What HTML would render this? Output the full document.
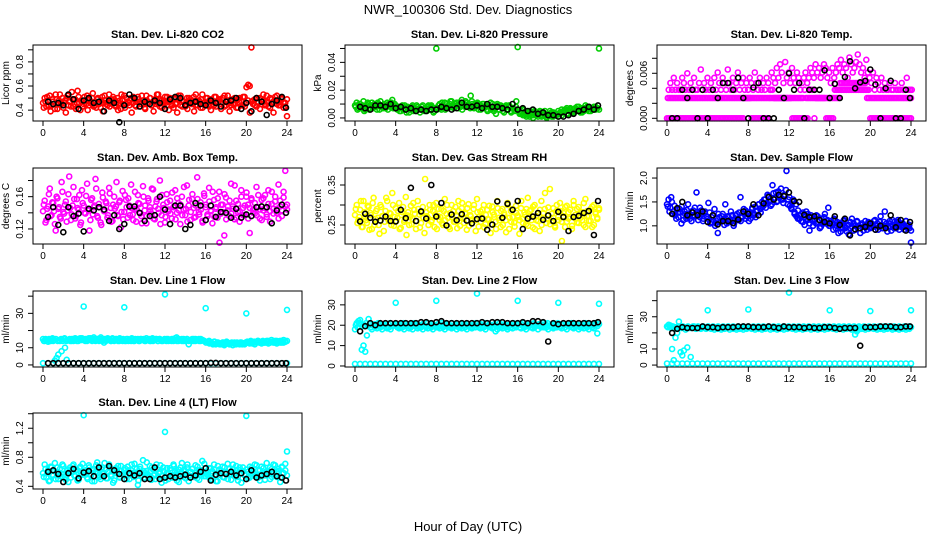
<!DOCTYPE html>
<html><head><meta charset="utf-8">
<style>
html,body{margin:0;padding:0;background:#fff;}
svg{display:block;font-family:"Liberation Sans",Arial,sans-serif;}
</style></head>
<body>
<svg id="chart" width="936" height="540" viewBox="0 0 936 540" xmlns="http://www.w3.org/2000/svg">
<text x="468" y="14" text-anchor="middle" font-size="13">NWR_100306 Std. Dev. Diagnostics</text>
<text x="468" y="531" text-anchor="middle" font-size="13">Hour of Day (UTC)</text>
</svg>
<script>
// ---- data (hours for black points) ----
const blackHours=[0.5,1,1.5,2,2.5,3,3.5,4,4.5,5,5.5,6,6.5,7,7.5,8,8.5,9,9.5,10,10.5,11,11.5,12,12.5,13,13.5,14,14.5,15,15.5,16,16.5,17,17.5,18,18.5,19,19.5,20,20.5,21,21.5,22,22.5,23,23.5,23.9];
const xTicks=[0,4,8,12,16,20,24];
// CO2
const co2A=[.46,.50,.43,.48,.52,.44,.47,.41,.49,.45,.53,.46,.42,.48,.50,.44,.47,.55,.43,.49,.46,.51,.40,.47,.45,.48,.52,.44,.46,.50,.43,.47,.49,.45,.42,.51,.46,.48,.44,.53,.47,.45,.49,.43,.50,.46,.41,.48,.52,.45,.47,.44,.50,.46,.49,.43,.51,.47,.45,.48,.42,.52,.46,.50,.44,.47,.49,.45,.53,.43,.48,.46,.51,.44,.47,.50,.45,.42,.49,.46,.52,.44,.48,.47,.43,.50,.46,.49,.45,.51,.44,.47,.48,.42,.53,.46,.45,.50,.43,.49,.47,.44,.51,.46,.48,.45,.50,.43,.47,.52,.46,.44,.49,.45,.48,.42,.50,.47,.44,.51,.46,.48,.60,.92,.45,.49,.43,.47,.50,.45,.48,.44,.52,.46,.42,.49,.47,.51,.45,.48,.44,.50,.46,.43,.49];
const co2B=[.42,.47,.51,.44,.39,.49,.45,.53,.41,.48,.44,.50,.46,.38,.52,.47,.43,.49,.45,.41,.56,.46,.48,.43,.51,.45,.40,.49,.47,.54,.44,.42,.50,.46,.48,.39,.52,.45,.47,.43,.49,.51,.44,.46,.40,.48,.53,.45,.42,.50,.46,.48,.38,.51,.44,.47,.49,.43,.52,.45,.41,.48,.46,.50,.44,.39,.47,.53,.45,.49,.42,.48,.46,.51,.40,.47,.44,.50,.45,.38,.49,.52,.43,.47,.45,.41,.50,.46,.48,.39,.53,.44,.47,.49,.42,.46,.50,.44,.48,.40,.45,.51,.43,.47,.49,.41,.46,.52,.44,.48,.39,.47,.45,.50,.42,.49,.46,.44,.51,.43,.59,.61,.38,.47,.48,.44,.50,.46,.41,.49,.53,.45,.47,.43,.50,.46,.38,.48,.52,.44,.47,.49,.42,.46,.35];
const co2K=[.47,.45,.46,.44,.53,.49,.41,.48,.50,.46,.47,.39,.48,.46,.30,.44,.53,.50,.43,.47,.45,.48,.46,.41,.49,.51,.50,.44,.46,.47,.45,.44,.48,.46,.43,.47,.48,.50,.41,.46,.39,.50,.47,.36,.45,.48,.51,.42];
// Pressure
const prA=[.009,.011,.007,.010,.008,.012,.006,.009,.010,.007,.011,.008,.009,.006,.010,.012,.008,.009,.007,.011,.010,.008,.013,.007,.009,.006,.008,.005,.009,.007,.006,.008,.004,.007,.009,.006,.005,.008,.007,.006,.009,.005,.007,.008,.006,.009,.007,.005,.050,.007,.010,.006,.009,.011,.008,.007,.010,.012,.009,.008,.011,.007,.010,.013,.009,.008,.011,.010,.007,.012,.009,.008,.010,.006,.009,.007,.010,.008,.006,.009,.011,.007,.005,.008,.010,.006,.009,.007,.004,.008,.006,.009,.005,.007,.006,.008,.051,.004,.003,.006,.002,.005,.003,.001,.004,.002,.005,.003,.001,.004,.002,.003,.005,.001,.003,.002,.004,.001,.003,.002,.005,.003,.006,.004,.005,.007,.003,.006,.005,.004,.007,.006,.008,.005,.004,.007,.006,.008,.005,.007,.006,.008,.006,.007,.050];
const prB=[.008,.006,.010,.007,.009,.005,.008,.011,.006,.009,.007,.010,.008,.011,.006,.009,.007,.010,.008,.006,.009,.011,.007,.010,.008,.007,.005,.008,.006,.009,.004,.007,.006,.008,.005,.007,.009,.006,.004,.008,.006,.007,.005,.009,.006,.008,.004,.007,.006,.009,.007,.011,.008,.006,.010,.009,.012,.008,.007,.010,.009,.011,.008,.006,.010,.012,.009,.008,.016,.010,.007,.009,.011,.008,.006,.010,.007,.009,.005,.008,.006,.010,.007,.003,.009,.006,.008,.005,.007,.009,.006,.008,.004,.007,.005,.012,.006,.003,.005,.002,.004,.001,.003,.005,.002,.000,.004,.002,.003,.005,.001,.004,.002,.000,.003,.005,.001,.004,.002,.003,.001,.004,.002,.005,.006,.003,.005,.007,.004,.006,.005,.008,.006,.004,.007,.005,.009,.006,.008,.005,.007,.006,.008,.007,.006];
const prK=[.008,.007,.006,.009,.009,.008,.010,.007,.008,.006,.007,.005,.006,.005,.006,.006,.008,.007,.006,.007,.011,.008,.008,.009,.007,.010,.008,.008,.007,.006,.010,.006,.007,.005,.006,.003,.004,.002,.002,.001,.001,.002,.003,.005,.006,.008,.006,.009];
// Li-820 temp
const tA=[0,0,0,0,0,0,0,0,0,0,0,0,0,0,0,0,0,0,0,0,0,0,0,0,0,0,0,0,0,0,0,0,0,0,0,0,0,0,0,0,0,0,0,0,0,0,.0027,.0027,.0027,.0027,0,0,0,0,0,0,0,0,0,0,0,.0027,.0027,.0027,.0027,.0027,.0027,.0027,.0027,.0027,.0027,.0027,.0027,.0027,0,0,0,0,0,0,0,0,0,0,.0038,.0038,.0038,0,.0027,.0027,.0027,.0027,.0027,.0027,0,0,0,0,0,.0038,.0038,.0038,.0038,.0038,.0038,.0038,.0038,.0038,.0038,.0038,.0038,.0038,.0038,.0038,.0038,.0038,.0038,.0038,.0038,.0038,0,0,0,0,0,0,0,0,0,0,0,0,0,0,0,0,0,0,0,0,0,0,0,0,0];
const tB=[.0027,.0027,.0027,.0027,.0027,.0027,.0027,.0027,.0027,.0027,.0027,.0027,.0027,.0027,.0027,.0027,.0027,.0027,.0027,.0027,.0027,.0027,.0027,.0027,.0027,.0027,.0027,.0027,.0027,.0027,.0027,.0027,.0027,.0027,.0027,.0027,.0027,.0027,.0027,.0027,.0027,.0027,.0027,.0027,.0027,.0027,.0027,.0027,.0027,.0027,.0027,.0027,.0027,.0027,.0027,.0027,.0027,.0027,.0027,.0027,.0027,.0038,.0038,.0027,.0027,.0027,.0027,.0027,.0027,.0027,.0027,.0027,.0027,.0027,.0027,.0027,.0027,.0027,.0027,.0027,.0027,.0038,.0027,.0027,.0027,.0027,.0027,.0027,.0027,.0027,.0027,.0027,.0027,.0027,.0027,.0027,.0027,.0027,.0027,.0027,.0027,.0027,.0047,.0047,.0047,.0047,.0047,.0047,.0047,.0047,.0047,.0047,.0047,.0047,.0047,.0047,.0047,.0047,.0027,.0027,.0027,.0027,.0027,.0027,.0027,.0027,.0027,.0027,.0027,.0027,.0027,.0027,.0027,.0027,.0027,.0027,.0027,.0027,.0027,.0027,.0027,.0027,.0027,.0027,.0027];
const tC=[.0038,.0047,.0038,.0054,.0038,.0047,.0038,.0038,.0054,.0047,.0038,.006,.0038,.0047,.0038,.0054,.0038,.0038,.0047,.0065,.0038,.0047,.0038,.0054,.0038,.0047,.0038,.0054,.0038,.0061,.0047,.0038,.0054,.0047,.0038,.0065,.0047,.0038,.0054,.0038,.0047,.0061,.0038,.0047,.0054,.0038,.0047,.0038,.0054,.0047,.0038,.0061,.0047,.0038,.0054,.0038,.0047,.0038,.0054,.0047,.0038,.0061,.0054,.0047,.0067,.0054,.0072,.0061,.0047,.0075,.0054,.0061,.0047,.0067,.0054,.0047,.0061,.0054,.0038,.0047,.0054,.0061,.0047,.0054,.0067,.0061,.0054,.0072,.0061,.0067,.0054,.0061,.0072,.0067,.0054,.0061,.0047,.0067,.0054,.0061,.0072,.0067,.0078,.0061,.0072,.0067,.0054,.0081,.0072,.0061,.0067,.0075,.0085,.0072,.0061,.0067,.0054,.0078,.0061,.0054,.0047,.0061,.0038,.0054,.0047,.0038,.0054,.0038,.0047,.0038,.0038,.0047,.0038,.0038,.0047,.0038,.0038,.0038,.0047,.0038,.0038,.0054,.0038,.0038,.0038];
const tK=[0,0,.0038,.0027,.0038,0,.0038,0,.0038,.0027,.0047,.0047,.0038,.0054,.0027,0,.0041,.0047,0,0,0,.0038,.0027,.0060,.0038,.0047,0,.0038,.0038,.0038,.0064,.0027,.0046,.0027,.0055,.0076,.0040,.0048,.0050,.0065,.0045,0,.0040,.0050,0,0,.0038,.0027];
// Amb box temp
const abA=[.142,.155,.131,.148,.170,.137,.152,.126,.160,.145,.135,.178,.141,.150,.129,.163,.146,.138,.172,.133,.157,.144,.125,.168,.149,.139,.176,.143,.131,.158,.147,.182,.136,.151,.128,.165,.142,.154,.134,.171,.146,.130,.160,.148,.137,.153,.122,.167,.141,.156,.134,.149,.175,.138,.145,.129,.162,.151,.136,.173,.143,.127,.158,.147,.139,.169,.132,.154,.145,.180,.137,.150,.128,.163,.142,.155,.133,.147,.168,.140,.152,.126,.160,.144,.137,.174,.149,.131,.157,.146,.135,.184,.141,.153,.130,.164,.147,.138,.171,.143,.127,.156,.145,.134,.166,.139,.150,.112,.159,.143,.136,.176,.148,.132,.155,.141,.129,.168,.146,.137,.160,.150,.115,.158,.144,.139,.172,.147,.133,.156,.143,.162,.138,.151,.129,.166,.145,.154,.140,.175,.148,.136,.159,.192,.144];
const abB=[.150,.128,.145,.163,.136,.153,.142,.118,.158,.147,.133,.166,.139,.154,.143,.185,.131,.149,.157,.136,.146,.162,.128,.152,.140,.161,.145,.118,.156,.138,.149,.170,.134,.147,.125,.159,.143,.152,.137,.164,.129,.150,.145,.178,.136,.155,.141,.132,.162,.147,.158,.137,.146,.131,.166,.144,.152,.139,.127,.160,.149,.136,.155,.143,.170,.133,.148,.157,.140,.126,.162,.146,.135,.153,.144,.139,.165,.148,.132,.158,.143,.150,.137,.172,.145,.129,.156,.141,.163,.134,.149,.157,.138,.144,.128,.161,.150,.136,.154,.142,.166,.135,.147,.158,.103,.150,.141,.163,.132,.148,.155,.139,.145,.174,.134,.151,.142,.160,.137,.149,.165,.133,.146,.156,.140,.152,.137,.162,.144,.131,.158,.146,.135,.168,.142,.151,.139,.160,.145,.133,.155,.143,.166,.148,.150];
const abK=[.135,.147,.125,.116,.147,.136,.139,.117,.145,.143,.147,.144,.130,.137,.120,.126,.148,.148,.140,.130,.136,.137,.160,.144,.126,.149,.149,.120,.125,.152,.149,.131,.149,.135,.141,.140,.134,.145,.134,.138,.136,.147,.148,.147,.127,.143,.150,.140];
// Gas stream RH
const rhA=[.275,.300,.262,.288,.245,.310,.270,.255,.295,.280,.240,.318,.265,.290,.250,.300,.272,.235,.285,.310,.260,.278,.330,.248,.292,.268,.305,.243,.282,.258,.320,.274,.250,.298,.265,.288,.240,.310,.276,.255,.295,.230,.282,.268,.300,.258,.285,.245,.305,.272,.262,.290,.250,.315,.278,.268,.240,.300,.285,.258,.272,.310,.248,.292,.266,.280,.238,.302,.275,.255,.290,.262,.315,.246,.284,.270,.300,.252,.288,.264,.230,.296,.276,.258,.310,.268,.245,.290,.280,.262,.305,.240,.285,.270,.256,.298,.274,.228,.292,.266,.282,.252,.318,.270,.288,.244,.300,.262,.280,.235,.310,.268,.290,.255,.275,.340,.260,.292,.248,.285,.270,.305,.258,.280,.245,.298,.266,.288,.240,.310,.275,.256,.295,.268,.282,.250,.315,.272,.260,.290,.245,.300,.278,.265,.288];
const rhB=[.290,.255,.270,.310,.245,.282,.262,.298,.238,.275,.305,.250,.285,.268,.228,.295,.272,.258,.318,.265,.280,.250,.300,.270,.260,.285,.240,.275,.295,.262,.225,.282,.270,.252,.305,.278,.260,.290,.244,.280,.268,.365,.272,.250,.288,.262,.300,.276,.240,.290,.270,.255,.285,.262,.300,.245,.280,.270,.258,.295,.242,.285,.268,.305,.255,.278,.292,.248,.272,.262,.300,.235,.282,.270,.258,.288,.244,.275,.265,.298,.252,.282,.270,.240,.292,.262,.285,.250,.275,.232,.300,.268,.258,.290,.246,.280,.270,.262,.310,.255,.275,.290,.248,.285,.262,.296,.240,.272,.260,.288,.250,.280,.330,.265,.294,.252,.278,.268,.244,.300,.262,.285,.210,.272,.295,.258,.282,.270,.248,.300,.266,.290,.255,.280,.262,.305,.245,.285,.272,.260,.296,.250,.282,.268,.292];
const rhK=[.259,.278,.268,.258,.261,.271,.260,.259,.288,.267,.343,.260,.284,.266,.350,.271,.305,.249,.276,.262,.277,.261,.254,.265,.266,.238,.251,.309,.268,.303,.288,.310,.240,.266,.271,.280,.263,.274,.260,.283,.270,.235,.270,.273,.280,.285,.225,.310];
// Sample flow
const sfA=[1.45,1.55,1.38,1.50,1.30,1.22,1.35,1.18,1.28,1.40,1.12,1.25,1.33,1.20,1.15,1.30,1.22,1.38,1.70,1.25,1.18,1.32,1.10,1.27,1.20,1.15,1.28,1.08,1.22,1.35,1.05,0.85,1.18,1.10,1.25,1.02,1.15,1.20,1.08,1.30,1.12,1.05,1.22,1.15,1.28,1.10,1.18,1.25,1.32,1.20,1.28,1.15,1.35,1.22,1.40,1.30,1.45,1.35,1.50,1.42,1.55,1.48,1.62,1.52,1.45,1.68,1.58,1.50,1.72,1.60,1.55,1.48,1.65,2.15,1.55,1.42,1.35,1.55,1.28,1.20,1.32,1.15,1.25,1.08,1.18,1.30,1.12,0.90,1.22,1.10,1.15,1.05,1.20,1.12,0.98,1.08,1.18,1.05,1.12,1.00,1.10,1.02,1.15,0.95,1.08,1.00,0.88,1.05,1.12,0.95,1.00,0.82,1.08,0.98,1.05,0.92,1.10,1.00,0.95,1.05,0.90,1.02,0.98,1.08,0.95,1.05,0.98,1.12,1.00,0.92,1.08,1.02,0.95,1.30,1.05,0.98,1.10,0.90,1.02,1.08,0.95,1.12,1.00,0.98,1.05,0.92,1.10,1.00,0.95,0.65];
const sfB=[1.40,1.30,1.60,1.25,1.42,1.15,1.28,1.35,1.05,1.22,1.30,1.15,1.45,1.25,1.10,1.32,1.20,1.28,1.12,1.38,1.25,1.15,1.30,1.20,1.48,1.05,1.18,1.12,1.00,1.15,1.25,1.08,1.20,1.12,1.45,1.05,1.18,1.10,1.22,1.00,1.15,1.25,1.12,1.60,1.20,1.35,1.15,1.28,1.10,1.22,1.38,1.25,1.18,1.32,1.45,1.28,1.40,1.55,1.38,1.65,1.50,1.42,1.85,1.58,1.70,1.52,1.62,1.78,1.55,1.65,1.75,1.45,1.60,1.38,1.50,1.25,1.45,1.15,1.22,1.10,1.28,1.02,1.15,1.25,1.05,1.18,1.00,1.12,1.22,1.08,0.95,1.15,1.05,1.25,1.10,1.38,1.00,1.05,0.92,1.12,1.00,0.85,1.05,0.95,1.10,0.98,0.88,1.02,0.95,1.15,0.90,1.00,1.08,0.95,0.85,1.02,0.98,1.10,0.92,1.05,0.98,1.02,1.10,0.92,1.05,0.98,1.20,0.95,1.08,1.00,0.88,1.05,0.98,1.12,0.95,1.00,1.08,0.92,1.05,1.00,0.98,1.10,0.95,1.02,0.90];
const sfK=[1.25,1.37,1.50,1.22,1.28,1.22,1.30,1.08,1.22,1.03,1.10,1.10,1.06,1.13,1.30,1.25,1.45,1.22,1.47,1.60,1.55,1.65,1.62,1.70,1.52,1.50,1.23,1.18,1.20,1.12,1.08,1.05,1.20,1.02,1.15,0.80,0.93,0.95,0.98,1.05,0.92,1.00,0.95,1.22,0.97,1.12,0.90,1.08];
// Line 1
const l1A=[15,14,14.5,13.5,14,15,14,2.5,4,6,14,8,15,10,3,14.5,14,15,14,15.5,14,15,14.5,15.5,34,15,14,15.5,14.5,15,16,14,15,14.5,15,14,13,15,14.5,15,14,15.5,14,15,14.5,14,15,14,33.5,14,15,14.5,14,15,14,14.5,15,14,15,14.5,14,15.5,14.5,14,15,14,14.5,15,14,15,14,14.5,41,15,14,14.5,15,14,15.5,14,15,14.5,14,15,14,15,12,14.5,14,15,14,14.5,15,14,14.5,14,33,13.5,14,13,12.5,13.5,12,13,12.5,12,13,11.5,12.5,13,12,12.5,11.5,13,12,12.5,12,13,12.5,12,30,13,12.5,13.5,13,12,13.5,14,13,12.5,13.5,13,14,12.5,13,13.5,13,14,12.5,13.5,13,14,13,13.5,32];
const l1B=[14,15,14.5,15,14,15.5,14.5,15,14,14.5,15,14,15.5,14,14.5,15,14,15,14.5,15,14,15.5,14.5,15,14,15,14.5,15.5,14,15,14.5,15,14,16,14.5,15,14,15.5,14.5,14,15,14.5,15,14,15.5,14.5,15,14,15,14,14.5,15.5,14,15,14.5,14,15,14.5,15,14,14.5,15,14,15.5,14.5,15,14,15,14.5,14,15,14,15,14.5,14,15,14.5,16,14,14.5,15,14,14.5,15,14,14.5,15,14,15,14.5,14,15,14.5,14,13,13.5,12.5,13,12,13.5,12.5,13,12,12.5,13,12,13.5,12.5,12,13,12.5,12,13,12.5,13,12,12.5,13,13.5,13,14,12.5,13.5,13,14,13,13.5,14,13,13.5,14,13,14.5,13.5,13,14,13.5,14,13,14.5,13.5,14];
const l1Z=[1,1,1,1,1,1,1,1,1,1,1,1,1,1,1,1,1,1,1,1,1,1,1,1,1,1,1,1,1,1,1,1,1,1,1,1,1,1,1,1,1,1,1,1,1,1,1,1,1];
const l1K=[1,1,1,1,1,1,1,1,1,1,1,1,1,1,1,1,1,1,1,1,1,1,1,1,1,1,1,1,1,1,1,1,1.2,1.2,1,1,1,1,1,1,1,1,1,1,1,1,1,1];
// Line 2
const l2A=[18,21,22,22.5,8,10,7,15,23,19,18,20,19,18.5,20,19,18,19.5,20,18.5,19,18,19.5,20,31,19,18.5,20,19,18,19.5,20,18.5,19,18,20,19.5,18.5,19,20,18,19.5,19,18.5,20,19,18,19.5,32,19,18.5,20,19,18,19.5,20,19,18.5,19,20,18,19.5,19,18.5,20,19,18,19.5,19,18.5,20,19,35.5,19,18.5,20,19,18,19.5,20,19,18.5,19,17,18,19.5,19,18.5,20,19,18,19.5,19,18.5,20,19,32,19,18.5,20,19,18,19.5,20,19,18.5,19,20,18,19.5,19,21,20,19,18,19.5,19,18.5,20,19,31,19,18.5,20,19,18,19.5,20,19,18.5,19,20,18,19.5,19,18.5,20,19,18,19.5,19,18.5,20,16,30.5];
const l2B=[20,19,21,20.5,19.5,20,21,19.5,20.5,19,20,20.5,19.5,21,20,19.5,20.5,20,19,20.5,21,19.5,20,20.5,19.5,20,19,20.5,21,19.5,20,20.5,19,20,21,19.5,20.5,20,19,20.5,20,19.5,21,20,19.5,20.5,20,19,20.5,20,21,19.5,20,20.5,19,20,21,19.5,20.5,20,19,20.5,21,19.5,20,20.5,19.5,20,19,20.5,21,19.5,20,20.5,19,20,21,19.5,20.5,20,19,20.5,20,19.5,21,20,19.5,20.5,20,19,20.5,20,21,19.5,20,20.5,19,20,21,19.5,20.5,20,19,20.5,21,19.5,20,20.5,19.5,20,19,20.5,21,19.5,20,20.5,19,20,21,19.5,20.5,20,19,20.5,20,19.5,21,20,19.5,20.5,20,19,20.5,20,21,19.5,20,20.5,19,20,21,19.5,20.5];
const l2Z=[1,1,1,1,1,1,1,1,1,1,1,1,1,1,1,1,1,1,1,1,1,1,1,1,1,1,1,1,1,1,1,1,1,1,1,1,1,1,1,1,1,1,1,1,1,1,1,1,1];
const l2K=[17,19.5,21,20,21,21,21,21,21,21,21,21,21.5,21.5,21,21.5,22,21,21,21,21,21,21,21,21.5,21,21.5,21.5,21.5,21,21,21,21.5,21,22,22,21.5,12,21,20.5,21,21,21,21,21,21,21,21.5];
// Line 3
const l3A=[24,25,24.5,10,3,17,20,27,8,6,9,22,11,23,5,23.5,24,22.5,23,23.5,22.5,23,23.5,22.5,34,23,22.5,23.5,22,23,22.5,23.5,22,23,22.5,23,23.5,22,23,22.5,23.5,22,23,22.5,23,22,23.5,22.5,34.5,23,22.5,23.5,22,23,22.5,23.5,22,23,22.5,23,23.5,22,23,22.5,23.5,22,23,22.5,23,22,23.5,22.5,45,23,22.5,23.5,22,23,22.5,23.5,22,23,22.5,23,23.5,22,23,22.5,23.5,22,23,22.5,23,22,23.5,22.5,34,23,22.5,23.5,22,23,22.5,23.5,22,23,22.5,23,23.5,22,23,19,21,22,23,22.5,23,22,23.5,22.5,33.5,23,22.5,23.5,22,23,22.5,23.5,22,23,22.5,23,23.5,22,23,22.5,23.5,22,23,22.5,23,22,23.5,22.5,34];
const l3B=[23.5,24,23,24,23.5,23,24,23.5,23,24,23.5,23,24,23.5,23,24,23.5,23,24,23.5,23,24,23.5,23,24,23.5,23,24,23.5,23,24,23.5,23,24,23.5,23,24,23.5,23,24,23.5,23,24,23.5,23,24,23.5,23,24,23.5,23,24,23.5,23,24,23.5,23,24,23.5,23,24,23.5,23,24,23.5,23,24,23.5,23,24,23.5,23,24,23.5,23,24,23.5,23,24,23.5,23,24,23.5,23,24,23.5,23,24,23.5,23,24,23.5,23,24,23.5,23,24,23.5,23,24,23.5,23,24,23.5,23,24,23.5,23,24,23.5,23,24,23.5,23,24,23.5,23,24,23.5,23,24,23.5,23,24,23.5,23,24,23.5,23,24,23.5,23,24,23.5,23,24,23.5,23,24,23.5,23,24,23.5,23,24,23.5];
const l3Z=[1,1,1,1,1,1,1,1,1,1,1,1,1,1,1,1,1,1,1,1,1,1,1,1,1,1,1,1,1,1,1,1,1,1,1,1,1,1,1,1,1,1,1,1,1,1,1,1,1];
const l3K=[20,22.5,23.5,23,23,23,24,23.5,23.5,23,23.5,23.5,23.5,24,24,24,23.5,23.5,23.5,24,23.5,23,24,23.5,23.5,23.5,23,23.5,23,23,23.5,23.5,23,22.5,23,23,23,12,23.5,23.5,23.5,24,24,24,23.5,23.5,24,24];
// Line 4
const l4A=[.58,.70,.52,.62,.48,.66,.55,.72,.60,.50,.64,.57,.68,.53,.61,.46,.66,.59,.70,.54,.63,.49,.67,.56,1.38,.62,.52,.69,.57,.47,.64,.60,.73,.55,.50,.66,.58,.63,.51,.70,.56,.61,.48,.65,.59,.53,.68,.57,.62,.55,.67,.50,.62,.58,.71,.54,.42,.64,.59,.76,.52,.61,.56,.68,.49,.63,.57,.70,.53,.60,.45,.66,1.15,.58,.50,.65,.55,.70,.60,.48,.63,.57,.72,.53,.61,.66,.47,.59,.64,.55,.69,.51,.62,.58,.75,.54,.60,.56,.65,.50,.61,.70,.55,.47,.63,.58,.67,.52,.60,.71,.56,.49,.64,.58,.68,.53,.62,.45,.66,.57,1.37,.60,.52,.65,.57,.70,.54,.62,.48,.67,.59,.55,.72,.60,.50,.64,.57,.69,.53,.61,.46,.66,.58,.71,.88];
const l4B=[.53,.64,.58,.47,.67,.56,.61,.50,.66,.59,.54,.70,.57,.49,.63,.60,.52,.68,.55,.62,.48,.65,.58,.71,.56,.60,.50,.66,.55,.62,.47,.69,.58,.53,.64,.57,.72,.51,.60,.66,.54,.45,.63,.58,.68,.52,.61,.56,.65,.50,.62,.57,.70,.53,.59,.64,.48,.67,.55,.61,.58,.73,.52,.60,.66,.55,.50,.63,.58,.69,.54,.61,.48,.65,.57,.62,.52,.68,.56,.60,.46,.66,.58,.63,.51,.70,.55,.60,.64,.53,.58,.67,.49,.62,.57,.71,.54,.60,.52,.65,.58,.63,.47,.68,.56,.61,.53,.66,.59,.50,.64,.57,.70,.54,.62,.48,.66,.58,.61,.55,.63,.51,.67,.58,.60,.54,.69,.52,.62,.57,.65,.49,.61,.58,.66,.53,.70,.56,.60,.64,.52,.67,.58,.62,.55];
const l4K=[.60,.62,.57,.46,.58,.64,.51,.59,.61,.54,.66,.54,.68,.62,.57,.50,.58,.55,.58,.50,.50,.66,.50,.52,.54,.52,.54,.56,.52,.55,.60,.65,.48,.56,.58,.57,.60,.55,.58,.50,.62,.52,.55,.57,.60,.54,.52,.48];

const NS="http://www.w3.org/2000/svg";
const svg=document.getElementById('chart');
const COLS=[33,345,657], ROWS=[45,168,291,413], W=269, H=76;
function mk(tag,attrs,parent){const e=document.createElementNS(NS,tag);for(const k in attrs)e.setAttribute(k,attrs[k]);(parent||svg).appendChild(e);return e;}

const panels=[
 {c:0,r:0,title:"Stan. Dev. Li-820 CO2",yl:"Licor ppm",ymin:.31,ymax:.94,ticks:[.4,.5,.6,.7,.8,.9],labels:[.4,.6,.8],fmt:1,color:"#ff0000",series:[co2A,co2B],zero:null,black:co2K},
 {c:1,r:0,title:"Stan. Dev. Li-820 Pressure",yl:"kPa",ymin:-.0022,ymax:.0525,ticks:[0,.01,.02,.03,.04,.05],labels:[0,.02,.04],fmt:2,color:"#00cd00",series:[prA,prB],zero:null,black:prK},
 {c:2,r:0,title:"Stan. Dev. Li-820 Temp.",yl:"degrees C",ymin:-.00036,ymax:.00977,ticks:[0,.002,.004,.006,.008],labels:[0,.006],fmt:3,color:"#ff00ff",series:[tA,tB,tC],zero:null,black:tK},
 {c:0,r:1,title:"Stan. Dev. Amb. Box Temp.",yl:"degrees C",ymin:.1014,ymax:.1955,ticks:[.12,.14,.16,.18],labels:[.12,.16],fmt:2,color:"#ff00ff",series:[abA,abB],zero:null,black:abK},
 {c:1,r:1,title:"Stan. Dev. Gas Stream RH",yl:"percent",ymin:.2025,ymax:.3925,ticks:[.25,.30,.35],labels:[.25,.35],fmt:2,color:"#ffff00",series:[rhA,rhB],zero:null,black:rhK},
 {c:2,r:1,title:"Stan. Dev. Sample Flow",yl:"ml/min",ymin:.62,ymax:2.21,ticks:[1,1.5,2],labels:[1,1.5,2],fmt:1,color:"#0000ff",series:[sfA,sfB],zero:null,black:sfK},
 {c:0,r:2,title:"Stan. Dev. Line 1 Flow",yl:"ml/min",ymin:-1.2,ymax:43,ticks:[0,10,20,30,40],labels:[0,10,30],fmt:0,color:"#00ffff",series:[l1A,l1B],zero:l1Z,black:l1K},
 {c:1,r:2,title:"Stan. Dev. Line 2 Flow",yl:"ml/min",ymin:-.5,ymax:36.8,ticks:[0,10,20,30],labels:[0,10,20,30],fmt:0,color:"#00ffff",series:[l2A,l2B],zero:l2Z,black:l2K},
 {c:2,r:2,title:"Stan. Dev. Line 3 Flow",yl:"ml/min",ymin:-1.2,ymax:46,ticks:[0,10,20,30,40],labels:[0,10,30],fmt:0,color:"#00ffff",series:[l3A,l3B],zero:l3Z,black:l3K},
 {c:0,r:3,title:"Stan. Dev. Line 4 (LT) Flow",yl:"ml/min",ymin:.363,ymax:1.41,ticks:[.4,.6,.8,1,1.2,1.4],labels:[.4,.8,1.2],fmt:1,color:"#00ffff",series:[l4A,l4B],zero:null,black:l4K}
];

panels.forEach((p,pi)=>{
  const L=COLS[p.c], T=ROWS[p.r];
  const g=mk('g',{});
  
  
  const xs=h=>L+10+h*244/24;
  const ys=v=>T+(p.ymax-v)/(p.ymax-p.ymin)*H;
  const t=mk('text',{x:L+W/2,y:T-7,'text-anchor':'middle','font-size':11,'font-weight':'bold'},g);
  t.textContent=p.title;
  
  
  const pts=mk('g',{fill:'none','stroke-width':1.6},g);
  
  
  const drawArr=(arr,col,hourOf)=>{arr.forEach((v,i)=>{
    const c=mk('circle',{cx:xs(hourOf(i,arr.length)).toFixed(1),cy:ys(v).toFixed(1),r:2.5,stroke:col},pts);
    
    
  });};
  if(p.zero) drawArr(p.zero,p.color,(i,n)=>i*24/(n-1));
  p.series.forEach((arr,si)=>drawArr(arr,p.color,(i,n)=>(i+si*0.5)*24/(n-1+(si?0.5:0))));
  drawArr(p.black,'#000',(i)=>blackHours[i]);
  const box=mk('rect',{x:L,y:T,width:W,height:H,fill:'none',stroke:'#000','stroke-width':1},g);
  
  
  const xa=mk('g',{},g);
  
  
  mk('line',{x1:xs(0),x2:xs(24),y1:T+H,y2:T+H,stroke:'#000'},xa);
  xTicks.forEach(h=>{
    mk('line',{x1:xs(h),x2:xs(h),y1:T+H,y2:T+H+5,stroke:'#000'},xa);
    const lt=mk('text',{x:xs(h),y:T+H+15,'text-anchor':'middle','font-size':10},xa);
    lt.textContent=h;
    
    
  });
  const ya=mk('g',{},g);
  
  
  mk('line',{x1:L,x2:L,y1:ys(p.ticks[0]),y2:ys(p.ticks[p.ticks.length-1]),stroke:'#000'},ya);
  p.ticks.forEach(v=>mk('line',{x1:L-5,x2:L,y1:ys(v),y2:ys(v),stroke:'#000'},ya));
  p.labels.forEach(v=>{
    const yy=ys(v);
    const lt=mk('text',{x:L-10,y:yy,'text-anchor':'middle','font-size':10,transform:`rotate(-90 ${L-10} ${yy})`},ya);
    lt.textContent=v.toFixed(p.fmt);
    
    
  });
  const yt=mk('text',{x:L-24,y:T+H/2,'text-anchor':'middle','font-size':10,transform:`rotate(-90 ${L-24} ${T+H/2})`},ya);
  yt.textContent=p.yl;
  
  
});
</script>
</body></html>
